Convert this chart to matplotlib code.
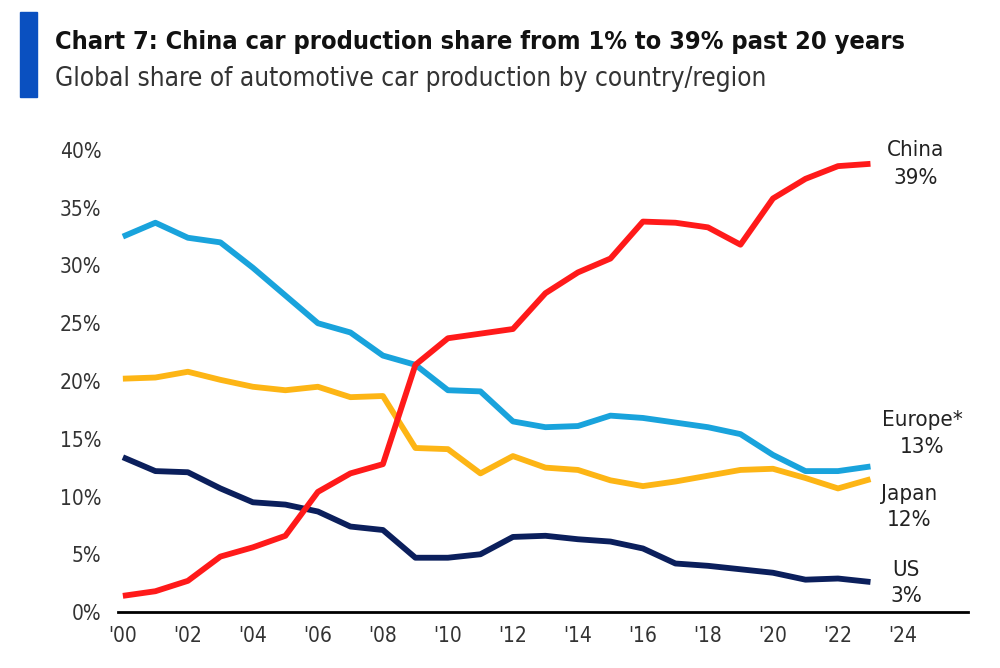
import matplotlib.pyplot as plt
import matplotlib.patches as patches

plt.rcParams['font.family'] = ['DejaVu Sans']
plt.rcParams['font.stretch'] = 'condensed'

years = list(range(2000, 2024))
china = [1.4, 1.8, 2.7, 4.8, 5.6, 6.6, 10.4, 12.0, 12.8, 21.4, 23.7, 24.1,
         24.5, 27.6, 29.4, 30.6, 33.8, 33.7, 33.3, 31.8, 35.8, 37.5, 38.6, 38.8]
europe = [32.5, 33.7, 32.4, 32.0, 29.8, 27.4, 25.0, 24.2, 22.2, 21.4, 19.2, 19.1,
          16.5, 16.0, 16.1, 17.0, 16.8, 16.4, 16.0, 15.4, 13.6, 12.2, 12.2, 12.6]
japan = [20.2, 20.3, 20.8, 20.1, 19.5, 19.2, 19.5, 18.6, 18.7, 14.2, 14.1, 12.0,
         13.5, 12.5, 12.3, 11.4, 10.9, 11.3, 11.8, 12.3, 12.4, 11.6, 10.7, 11.5]
us = [13.4, 12.2, 12.1, 10.7, 9.5, 9.3, 8.7, 7.4, 7.1, 4.7, 4.7, 5.0,
      6.5, 6.6, 6.3, 6.1, 5.5, 4.2, 4.0, 3.7, 3.4, 2.8, 2.9, 2.6]

xticks = list(range(2000, 2025, 2))
xtick_labels = ["'" + str(y)[2:] for y in xticks]
yticks = list(range(0, 45, 5))
ytick_labels = [f"{v}%" for v in yticks]

fig = plt.figure(figsize=(10, 6.68), dpi=100)
ax = fig.add_axes([0.118, 0.0838, 0.85, 0.709])

ax.plot(years, europe, color="#19A3DC", lw=4.2, solid_capstyle="butt")
ax.plot(years, japan, color="#FDB515", lw=4.2, solid_capstyle="butt")
ax.plot(years, us, color="#0B1F5C", lw=4.2, solid_capstyle="butt")
ax.plot(years, china, color="#FF1A1A", lw=4.2, solid_capstyle="butt")

ax.set_xlim(1999.85, 2026)
ax.set_ylim(0, 41)
ax.set_xticks(xticks)
ax.set_xticklabels(xtick_labels)
ax.set_yticks(yticks)
ax.set_yticklabels(ytick_labels)
ax.tick_params(length=0, labelsize=15, colors="#333333", pad=10)
ax.tick_params(axis="y", pad=12)
for s in ["top", "right", "left"]:
    ax.spines[s].set_visible(False)
ax.spines["bottom"].set_linewidth(2)
ax.spines["bottom"].set_color("black")

lab = dict(fontsize=16, color="#222222", ha="center", va="center")
ax.text(2024.4, 40.0, "China", **lab)
ax.text(2024.4, 37.6, "39%", **lab)
ax.text(2024.6, 16.6, "Europe*", **lab)
ax.text(2024.6, 14.3, "13%", **lab)
ax.text(2024.2, 10.2, "Japan", **lab)
ax.text(2024.2, 8.0, "12%", **lab)
ax.text(2024.1, 3.6, "US", **lab)
ax.text(2024.1, 1.4, "3%", **lab)

fig.patches.append(patches.Rectangle((0.020, 1 - 97 / 668), 0.017, 85 / 668,
                                     transform=fig.transFigure, color="#0A50C0"))
fig.text(0.055, 1 - 42 / 668, "Chart 7: China car production share from 1% to 39% past 20 years",
         fontsize=18.2, fontweight="bold", color="#111111", va="center")
fig.text(0.055, 1 - 79 / 668, "Global share of automotive car production by country/region",
         fontsize=18.8, color="#333333", va="center")

fig.savefig("out.png", dpi=100)
